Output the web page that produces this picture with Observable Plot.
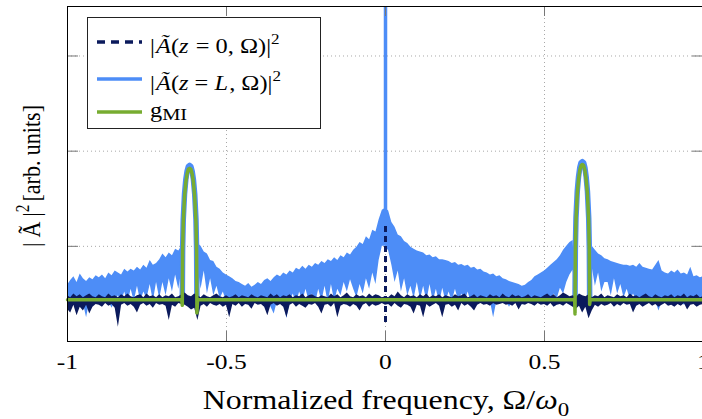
<!DOCTYPE html>
<html><head><meta charset="utf-8">
<script src="https://cdn.jsdelivr.net/npm/d3@7"></script>
<script src="https://cdn.jsdelivr.net/npm/@observablehq/plot@0.6"></script>
<style>
html,body{margin:0;padding:0;background:#fff;overflow:hidden;}
#chart svg{display:block;max-width:none;}
#chart svg text, #chart svg tspan{font-family:'Liberation Serif' !important;}
</style></head><body><div id="chart"></div>
<script>
// ---------- data ----------
const freq = d3.range(201).map(i => +(-1 + i * 0.01).toFixed(2)); // sampling grid, -1 .. 1

// |Ã(z=L,Ω)|² : upper and lower envelope of the fast oscillation
const blueHi = [
 0.59,0.64,0.68,0.62,0.71,0.66,0.63,0.67,0.65,0.69,
 0.67,0.70,0.66,0.72,0.69,0.74,0.72,0.70,0.76,0.73,
 0.76,0.74,0.78,0.75,0.80,0.77,0.85,0.80,0.82,0.86,
 0.92,0.88,0.93,0.90,0.97,0.95,1.00,0.44,0.44,0.44,
 0.44,1.03,1.00,0.94,0.92,0.85,0.84,0.78,0.76,0.72,
 0.70,0.68,0.66,0.63,0.62,0.60,0.58,0.61,0.57,0.59,
 0.62,0.60,0.64,0.66,0.63,0.67,0.70,0.68,0.72,0.70,
 0.74,0.72,0.77,0.75,0.79,0.76,0.80,0.78,0.82,0.80,
 0.84,0.82,0.86,0.84,0.88,0.85,0.90,0.88,0.93,0.91,
 0.96,0.99,1.04,1.02,1.10,1.07,1.17,1.15,1.28,1.38,
 1.40,1.37,1.25,1.20,1.12,1.10,1.05,1.03,0.99,0.97,
 0.95,0.94,0.93,0.90,0.91,0.88,0.89,0.86,0.86,0.85,
 0.84,0.82,0.83,0.80,0.81,0.79,0.80,0.77,0.78,0.75,
 0.76,0.73,0.72,0.70,0.71,0.68,0.69,0.66,0.65,0.63,
 0.62,0.61,0.60,0.58,0.59,0.62,0.64,0.68,0.70,0.72,
 0.74,0.77,0.80,0.83,0.86,0.90,0.96,1.00,1.04,1.06,
 0.44,0.44,0.44,0.44,0.44,1.00,0.96,0.92,0.90,0.87,
 0.86,0.84,0.83,0.82,0.81,0.80,0.80,0.79,0.80,0.78,
 0.82,0.78,0.77,0.76,0.75,0.80,0.85,0.74,0.72,0.71,
 0.74,0.72,0.75,0.71,0.72,0.70,0.78,0.68,0.69,0.67,
 0.68];
const blueLo = [
 0.42,0.40,0.42,0.38,0.42,0.40,0.25,0.42,0.40,0.42,
 0.42,0.40,0.42,0.42,0.35,0.42,0.48,0.42,0.52,0.40,
 0.55,0.42,0.58,0.42,0.52,0.45,0.60,0.42,0.62,0.45,
 0.62,0.48,0.66,0.52,0.70,0.55,0.75,0.44,0.44,0.44,
 0.44,0.80,0.55,0.74,0.50,0.66,0.48,0.58,0.45,0.52,
 0.42,0.45,0.42,0.42,0.40,0.42,0.42,0.38,0.42,0.42,
 0.42,0.40,0.42,0.42,0.36,0.29,0.42,0.40,0.42,0.24,
 0.42,0.50,0.40,0.52,0.42,0.55,0.42,0.50,0.40,0.55,
 0.42,0.58,0.40,0.60,0.42,0.55,0.48,0.62,0.52,0.65,
 0.55,0.46,0.60,0.50,0.66,0.55,0.72,0.60,0.85,1.00,
 1.00,0.95,0.80,0.62,0.74,0.52,0.66,0.48,0.58,0.45,
 0.62,0.44,0.58,0.42,0.60,0.42,0.55,0.40,0.56,0.42,
 0.52,0.42,0.55,0.42,0.50,0.42,0.52,0.40,0.48,0.42,
 0.42,0.40,0.42,0.42,0.25,0.42,0.40,0.42,0.42,0.36,
 0.42,0.40,0.42,0.38,0.42,0.40,0.42,0.42,0.45,0.42,
 0.42,0.45,0.42,0.50,0.45,0.56,0.50,0.62,0.70,0.75,
 0.44,0.44,0.44,0.44,0.44,0.78,0.58,0.72,0.52,0.62,
 0.62,0.48,0.66,0.50,0.60,0.46,0.55,0.44,0.50,0.42,
 0.42,0.40,0.42,0.42,0.38,0.42,0.32,0.42,0.40,0.42,
 0.42,0.42,0.40,0.42,0.38,0.42,0.42,0.40,0.42,0.42,
 0.42];

// |Ã(z=0,Ω)|² : noise floor envelope
const navyHi = [
 0.48,0.46,0.50,0.47,0.49,0.46,0.48,0.50,0.47,0.46,
 0.49,0.47,0.46,0.50,0.47,0.48,0.46,0.49,0.47,0.50,
 0.47,0.46,0.48,0.49,0.46,0.50,0.47,0.48,0.46,0.49,
 0.46,0.48,0.47,0.50,0.46,0.47,0.49,0.51,0.48,0.47,
 0.50,0.48,0.46,0.49,0.47,0.46,0.48,0.50,0.47,0.46,
 0.48,0.46,0.47,0.49,0.46,0.48,0.47,0.46,0.49,0.47,
 0.46,0.48,0.47,0.46,0.50,0.47,0.49,0.46,0.48,0.47,
 0.49,0.46,0.48,0.47,0.50,0.46,0.48,0.49,0.47,0.46,
 0.48,0.47,0.46,0.50,0.47,0.49,0.46,0.48,0.51,0.47,
 0.46,0.49,0.47,0.48,0.46,0.50,0.47,0.49,0.48,0.46,
 0.47,0.46,0.49,0.47,0.52,0.48,0.46,0.49,0.47,0.48,
 0.46,0.49,0.47,0.50,0.46,0.48,0.47,0.49,0.46,0.48,
 0.47,0.46,0.49,0.47,0.48,0.50,0.46,0.47,0.49,0.46,
 0.48,0.47,0.46,0.49,0.47,0.48,0.46,0.50,0.47,0.46,
 0.49,0.47,0.48,0.46,0.47,0.49,0.46,0.48,0.47,0.46,
 0.48,0.50,0.47,0.49,0.46,0.48,0.51,0.49,0.47,0.48,
 0.46,0.50,0.48,0.47,0.49,0.46,0.48,0.47,0.50,0.46,
 0.48,0.47,0.46,0.49,0.47,0.48,0.46,0.50,0.47,0.48,
 0.46,0.48,0.50,0.47,0.46,0.49,0.47,0.46,0.48,0.47,
 0.49,0.46,0.48,0.47,0.50,0.46,0.48,0.47,0.49,0.46,
 0.47];
const navyLo = [
 0.34,0.30,0.38,0.27,0.36,0.32,0.38,0.29,0.36,0.39,
 0.38,0.36,0.40,0.37,0.39,0.35,0.15,0.38,0.40,0.37,
 0.39,0.36,0.30,0.38,0.40,0.37,0.39,0.35,0.40,0.38,
 0.39,0.37,0.22,0.38,0.36,0.40,0.39,0.38,0.36,0.33,
 0.35,0.22,0.37,0.39,0.36,0.40,0.38,0.37,0.39,0.36,
 0.38,0.25,0.39,0.37,0.40,0.36,0.39,0.38,0.34,0.40,
 0.38,0.39,0.36,0.27,0.38,0.40,0.37,0.39,0.36,0.25,
 0.38,0.40,0.36,0.39,0.37,0.35,0.39,0.38,0.40,0.36,
 0.29,0.38,0.39,0.36,0.40,0.25,0.37,0.39,0.38,0.36,
 0.39,0.37,0.32,0.38,0.40,0.36,0.39,0.37,0.38,0.40,
 0.38,0.39,0.36,0.40,0.37,0.35,0.39,0.38,0.36,0.29,
 0.38,0.37,0.25,0.39,0.36,0.38,0.40,0.37,0.25,0.38,
 0.39,0.36,0.38,0.32,0.40,0.37,0.39,0.36,0.32,0.38,
 0.40,0.38,0.39,0.37,0.40,0.38,0.39,0.40,0.38,0.39,
 0.37,0.40,0.33,0.39,0.38,0.40,0.39,0.37,0.40,0.38,
 0.39,0.37,0.40,0.36,0.38,0.39,0.37,0.40,0.38,0.36,
 0.34,0.37,0.30,0.36,0.24,0.32,0.38,0.36,0.39,0.37,
 0.38,0.40,0.36,0.39,0.37,0.40,0.38,0.39,0.30,0.37,
 0.39,0.36,0.38,0.40,0.37,0.39,0.36,0.38,0.40,0.37,
 0.38,0.36,0.39,0.37,0.40,0.33,0.38,0.39,0.36,0.38,
 0.39];

// central components at Ω = 0
const centerX = [0];
const blueSpike = [1.30, 3.52];   // pump line at z = L (runs off the top)
const navySpike = [0.20, 1.22];   // pump line at z = 0

// MI gain curve g_MI
const gainX = [-1,-0.641,-0.639,-0.638,-0.636,-0.632,-0.628,-0.624,-0.620,-0.616,-0.612,-0.608,-0.604,-0.600,-0.596,-0.594,-0.593,-0.591,
               0.595,0.596,0.597,0.599,0.603,0.607,0.611,0.615,0.619,0.623,0.627,0.631,0.635,0.639,0.641,0.642,0.644,1];
const gainY = [0.44,0.44,0.38,0.95,1.25,1.52,1.67,1.76,1.81,1.82,1.81,1.76,1.67,1.52,1.25,0.95,0.30,0.44,
               0.44,0.29,0.95,1.27,1.55,1.70,1.80,1.85,1.86,1.85,1.80,1.70,1.55,1.27,0.95,0.39,0.44,0.44];

// sidebands of |Ã(z=L,Ω)|² that follow the gain lobes
const peakLX = [-0.639,-0.638,-0.636,-0.632,-0.628,-0.624,-0.620,-0.616,-0.612,-0.608,-0.604,-0.600,-0.596,-0.594,-0.593];
const peakLY = [0.44,0.97,1.28,1.55,1.70,1.79,1.84,1.85,1.84,1.79,1.70,1.55,1.28,0.97,0.44];
const peakRX = [0.596,0.597,0.599,0.603,0.607,0.611,0.615,0.619,0.623,0.627,0.631,0.635,0.639,0.641,0.642];
const peakRY = [0.44,0.97,1.30,1.58,1.73,1.83,1.88,1.89,1.88,1.83,1.73,1.58,1.30,0.97,0.44];

const xTicks = [-1, -0.5, 0, 0.5, 1];
const xInner = [-0.5, 0, 0.5];
const yInner = [1, 2, 3];

const legendEntries = [
  {color: "#0b1a5c", dash: "8,6", parts: [["|"],["Ã","i",1],["("],["z","i"],[" = 0, Ω)|",null,1],["2","sup"]]},
  {color: "#4d8df7", dash: null,  parts: [["|"],["Ã","i",1],["("],["z","i"],[" = "],["L","i"],[", Ω)|",null,1],["2","sup"]]},
  {color: "#77ac30", dash: null,  parts: [["g"],["MI","low"]]}
];
const xLabelParts = [["Normalized frequency, Ω/"],["ω","i"],["0","sub"]];
const yLabelParts = [["|"],["Ã",null,5],["|",null,5],["2","sup"],["[arb. units]",null,3]];

// ---------- chart ----------
const FONT = "Liberation Serif";
const STRETCH = 1.16;
const blue = "#4d8df7", navy = "#0b1a5c", green = "#77ac30";
const rows = freq.map((x, i) => ({x, hi: blueHi[i], lo: blueLo[i], nhi: navyHi[i], nlo: navyLo[i]}));
const gain = gainX.map((x, i) => ({x, y: gainY[i]}));
const peaks = [
  ...peakLX.map((x, i) => ({x, y: peakLY[i], side: "L"})),
  ...peakRX.map((x, i) => ({x, y: peakRY[i], side: "R"}))
];
const center = centerX.map(x => ({x, b1: blueSpike[0], b2: blueSpike[1], n1: navySpike[0], n2: navySpike[1]}));

const plot = Plot.plot({
  width: 702, height: 419,
  marginLeft: 67, marginRight: -1, marginTop: 6, marginBottom: 78,
  x: {domain: [-1, 1]},
  y: {domain: [0, 3.52], axis: null},
  style: {fontFamily: FONT, fontSize: "22px", color: "#000", background: "#fff"},
  marks: [
    Plot.gridX(xInner, {stroke: "#a8a8a8", strokeOpacity: 1, strokeDasharray: "1,3"}),
    Plot.gridY(yInner, {stroke: "#a8a8a8", strokeOpacity: 1, strokeDasharray: "1,3"}),
    Plot.areaY(rows, {x: "x", y1: "lo", y2: "hi", fill: blue}),
    Plot.line(peaks, {x: "x", y: "y", z: "side", stroke: blue, strokeWidth: 5.5}),
    Plot.ruleX(center, {x: "x", y1: "b1", y2: "b2", stroke: blue, strokeWidth: 3.5}),
    Plot.areaY(rows, {x: "x", y1: "nlo", y2: "nhi", fill: navy}),
    Plot.ruleX(center, {x: "x", y1: "n1", y2: "n2", stroke: navy, strokeWidth: 3, strokeDasharray: "6,4"}),
    Plot.line(gain, {x: "x", y: "y", stroke: green, strokeWidth: 3.5}),
    Plot.ruleX(xInner, {stroke: "#777", insetTop: 325}),
    Plot.ruleX(xInner, {stroke: "#777", insetBottom: 325}),
    Plot.ruleY(yInner, {stroke: "#777", insetRight: 625}),
    Plot.ruleY(yInner, {stroke: "#777", insetLeft: 625}),
    Plot.frame({stroke: "#000"}),
    Plot.axisX(xTicks, {tickSize: 0, tickPadding: 12, tickFormat: d => String(d), fontSize: 22, label: null})
  ]
});
document.getElementById("chart").appendChild(plot);

const svg = d3.select(plot);
// widen the tick labels horizontally about their anchor, like the reference's face
svg.selectAll("text").each(function() {
  const t = d3.select(this);
  const xv = parseFloat(t.attr("x"));
  const x = Number.isFinite(xv) ? xv : 0;
  const tr = t.attr("transform") || "";
  t.attr("transform", `${tr} translate(${x},0) scale(${STRETCH},1) translate(${-x},0)`);
});

// ---------- text with math styling (legend, axis labels) ----------
function rich(sel, parts, size) {
  let shift = 0;
  parts.forEach(([t, s, dx]) => {
    const ts = sel.append("tspan").text(t);
    let target = 0, fs = size;
    if (s === "i") ts.attr("font-style", "italic");
    if (s === "sup") { target = -0.42 * size; fs = size * 0.7; }
    if (s === "sub") { target = 0.25 * size; fs = size * 0.72; }
    if (s === "low") { target = 0.14 * size; fs = size * 0.84; }
    ts.attr("font-size", fs).attr("dy", target - shift);
    if (dx) ts.attr("dx", dx);
    shift = target;
  });
}
const lg = svg.append("g").attr("font-family", FONT);
lg.append("rect").attr("x", 87.5).attr("y", 17.5).attr("width", 233).attr("height", 111)
  .attr("fill", "#fff").attr("stroke", "#222");
const swatchY = [42, 79, 112], textY = [52.5, 89.5, 117];
legendEntries.forEach((e, i) => {
  lg.append("line").attr("x1", 97).attr("x2", 142).attr("y1", swatchY[i]).attr("y2", swatchY[i])
    .attr("stroke", e.color).attr("stroke-width", 3.5).attr("stroke-dasharray", e.dash);
  rich(lg.append("text").attr("text-anchor", "start")
    .attr("transform", `translate(150,${textY[i]}) scale(${STRETCH},1)`).attr("font-size", 21), e.parts, 21);
});
rich(svg.append("text").attr("text-anchor", "middle").attr("font-family", FONT)
  .attr("transform", `translate(386,409) scale(${STRETCH},1)`).attr("font-size", 27.5), xLabelParts, 27.5);
rich(svg.append("text").attr("text-anchor", "middle").attr("font-family", FONT)
  .attr("transform", `translate(40,176) rotate(-90) scale(1,${STRETCH})`).attr("font-size", 22), yLabelParts, 22);
</script></body></html>
